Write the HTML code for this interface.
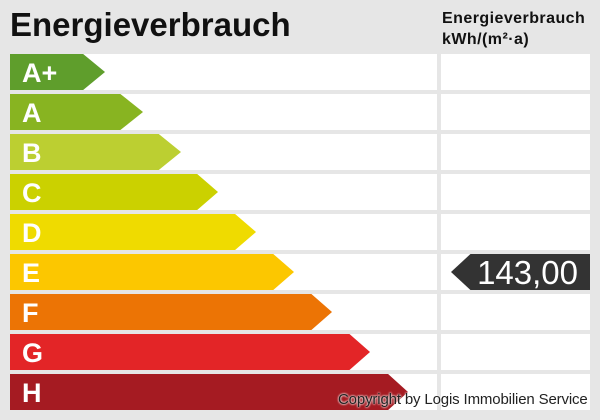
<!DOCTYPE html>
<html><head><style>
body{margin:0;width:600px;height:420px;background:#e6e6e6;position:relative;overflow:hidden;font-family:"Liberation Sans",Arial,sans-serif}
.t{position:absolute;left:10px;top:6px;font-size:33px;font-weight:bold;color:#111}
.h{position:absolute;left:442px;top:8px;font-size:16px;letter-spacing:0.45px;font-weight:bold;color:#111;line-height:21px}
.row{position:absolute;left:10px;width:427px;height:36px;background:#fff}
.col{position:absolute;left:441px;width:149px;height:36px;background:#fff}
.bar{position:absolute;left:10px;height:36px;color:#fff;font-weight:bold;font-size:27px;line-height:38px;text-indent:12px}
.cp{position:absolute;left:338px;top:391px;font-size:15px;letter-spacing:-0.15px;color:#222;text-shadow:0 0 2px #fff,0 0 2px #fff}
</style></head><body>
<div class="t">Energieverbrauch</div>
<div class="h">Energieverbrauch<br>kWh/(m²·a)</div>
<div class="row" style="top:54px"></div><div class="col" style="top:54px"></div>
<div class="row" style="top:94px"></div><div class="col" style="top:94px"></div>
<div class="row" style="top:134px"></div><div class="col" style="top:134px"></div>
<div class="row" style="top:174px"></div><div class="col" style="top:174px"></div>
<div class="row" style="top:214px"></div><div class="col" style="top:214px"></div>
<div class="row" style="top:254px"></div><div class="col" style="top:254px"></div>
<div class="row" style="top:294px"></div><div class="col" style="top:294px"></div>
<div class="row" style="top:334px"></div><div class="col" style="top:334px"></div>
<div class="row" style="top:374px"></div><div class="col" style="top:374px"></div>
<div class="bar" style="top:54px;width:95px;background:#5f9e2c;clip-path:polygon(0 0,77% 0,100% 50%,77% 100%,0 100%)">A+</div>
<div class="bar" style="top:94px;width:133px;background:#88b421;clip-path:polygon(0 0,83% 0,100% 50%,83% 100%,0 100%)">A</div>
<div class="bar" style="top:134px;width:171px;background:#bccf31;clip-path:polygon(0 0,87% 0,100% 50%,87% 100%,0 100%)">B</div>
<div class="bar" style="top:174px;width:208px;background:#cbd100;clip-path:polygon(0 0,90% 0,100% 50%,90% 100%,0 100%)">C</div>
<div class="bar" style="top:214px;width:246px;background:#efdb00;clip-path:polygon(0 0,91.5% 0,100% 50%,91.5% 100%,0 100%)">D</div>
<div class="bar" style="top:254px;width:284px;background:#fcc700;clip-path:polygon(0 0,92.7% 0,100% 50%,92.7% 100%,0 100%)">E</div>
<div class="bar" style="top:294px;width:322px;background:#ec7405;clip-path:polygon(0 0,93.6% 0,100% 50%,93.6% 100%,0 100%)">F</div>
<div class="bar" style="top:334px;width:360px;background:#e32527;clip-path:polygon(0 0,94.3% 0,100% 50%,94.3% 100%,0 100%)">G</div>
<div class="bar" style="top:374px;width:398px;background:#a51b22;clip-path:polygon(0 0,95% 0,100% 50%,95% 100%,0 100%)">H</div>
<div style="position:absolute;left:451px;top:254px;width:139px;height:36px;background:#333;clip-path:polygon(0 50%,14% 0,100% 0,100% 100%,14% 100%);color:#fff;font-size:33px;line-height:38px;text-align:right;box-sizing:border-box;padding-right:12px">143,00</div>
<div class="cp">Copyright by Logis Immobilien Service</div>
</body></html>
